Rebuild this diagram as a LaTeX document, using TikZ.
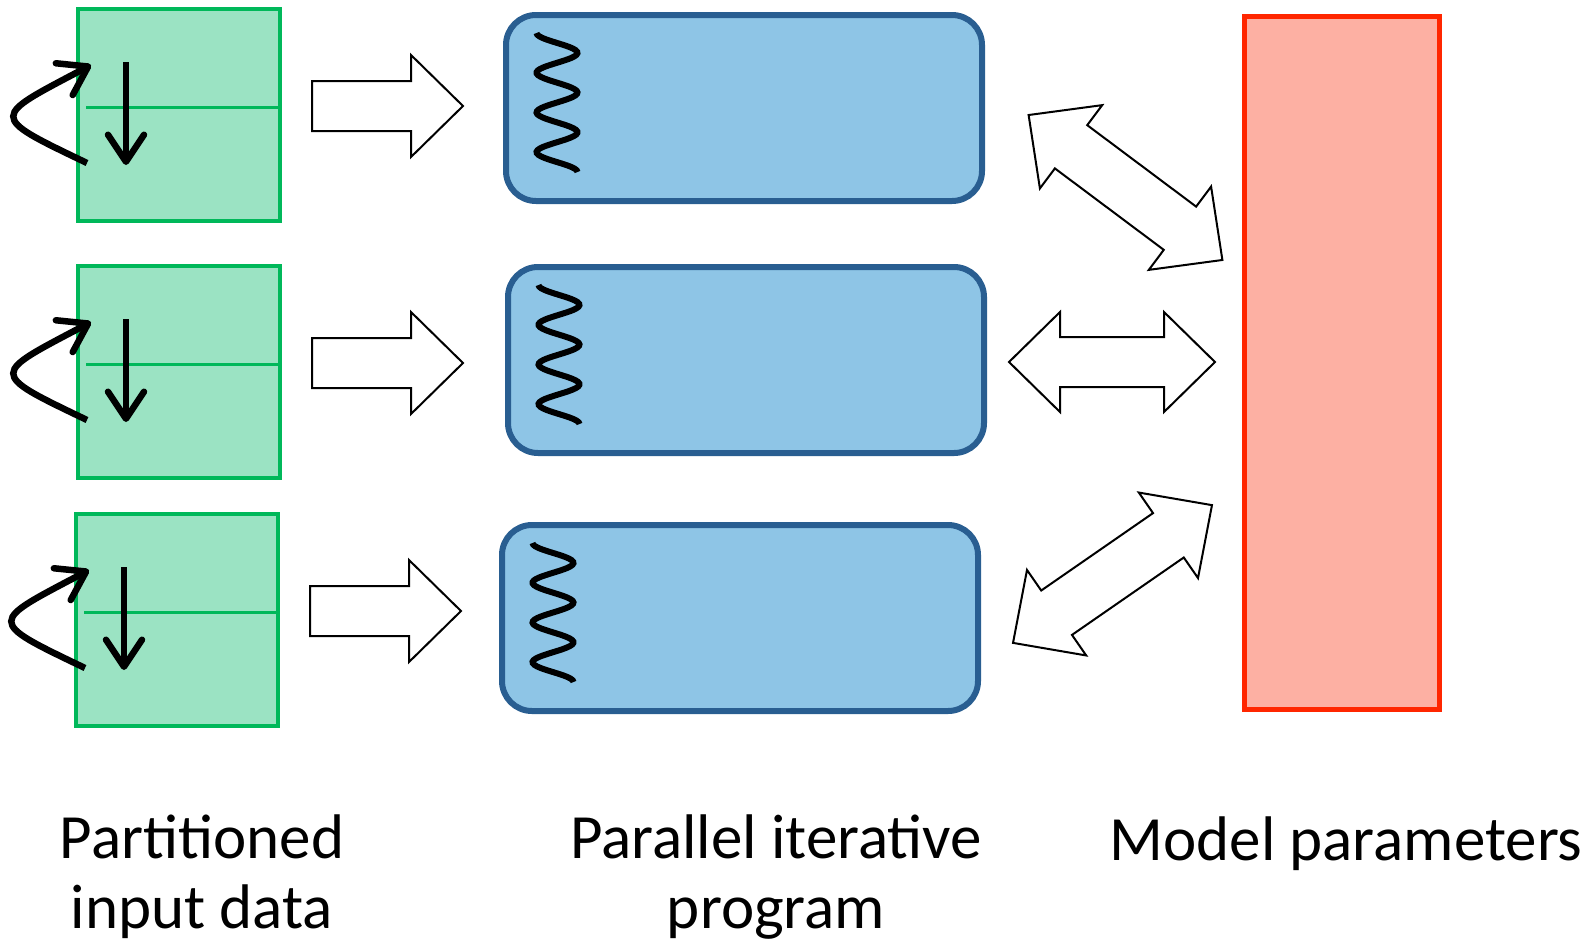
\documentclass[tikz,border=0pt]{standalone}
\usepackage{fontspec}
\setmainfont{Carlito}
\usetikzlibrary{arrows.meta}

\definecolor{gfill}{HTML}{9BE3C3}
\definecolor{gline}{HTML}{00B85A}
\definecolor{bfill}{HTML}{8EC5E6}
\definecolor{bline}{HTML}{295E91}
\definecolor{rfill}{HTML}{FDB0A3}
\definecolor{rline}{HTML}{FF2600}

\tikzset{
  part/.style={draw=gline, fill=gfill, line width=4pt, inner sep=0pt, outer sep=0pt,
    minimum width=202pt, minimum height=212pt, anchor=north west},
  proc/.style={draw=bline, fill=bfill, line width=6pt, rounded corners=30pt,
    inner sep=0pt, outer sep=0pt, minimum width=476pt, minimum height=186pt, anchor=north west},
  params/.style={draw=rline, fill=rfill, line width=5pt, inner sep=0pt, outer sep=0pt,
    minimum width=195pt, minimum height=693pt, anchor=north west},
  hollow/.style={draw=black, fill=white, line width=2pt, line join=miter},
  looparrow/.style={line width=6.5pt, -{Straight Barb[length=27pt,width=36pt,round]}},
  wave/.style={line width=6pt, line cap=butt},
  lbl/.style={font=\fontsize{63}{70}\selectfont, inner sep=0pt, anchor=base},
}

% double-headed block arrow: centre, angle, length, head length, head half-width, body half-width
\newcommand\dblArrow[6]{%
  \draw[hollow, shift={#1}, rotate=#2]
    ({-#3/2},0) -- ({-#3/2+#4},#5) -- ({-#3/2+#4},#6) -- ({#3/2-#4},#6)
    -- ({#3/2-#4},#5) -- ({#3/2},0) -- ({#3/2-#4},-#5) -- ({#3/2-#4},-#6)
    -- ({-#3/2+#4},-#6) -- ({-#3/2+#4},-#5) -- cycle;}

\begin{document}
\begin{tikzpicture}[x=1pt, y=-1pt]
\useasboundingbox (0,0) rectangle (1593,943);

% partitioned input data
\foreach \i/\dx/\dy in {1/0/0, 2/0/257, 3/-2/505}{
  \begin{scope}[shift={(\dx,\dy)}]
    \node[part] (g\i) at (78,9) {};
    \draw[gline, line width=3pt] (86,107) -- (g\i.east |- 0,107);
    \draw[looparrow] (87,163) .. controls (-13,115) and (-9,118) .. (91,65);
    \draw[looparrow] (126,62) -- (126,165);
    % block arrow towards the program
    \coordinate (a\i) at (312,106);
    \draw[hollow, shift={(a\i)}] (0,-25) -- (99,-25) -- (99,-51) -- (151,0)
      -- (99,51) -- (99,25) -- (0,25) -- cycle;
  \end{scope}
}

% parallel iterative program
\foreach \i/\dx/\dy in {1/0/0, 2/2/252, 3/-4/510}{
  \node[proc] (p\i) at (506+\dx,15+\dy) {};
  \draw[wave] plot[smooth, samples=90, domain=0:139]
    ({557+\dx-20.5*cos(\x/19.857*180)}, {33+\dy+\x});
}

% model parameters
\node[params] (m) at (1244.5,16.5) {};

% exchanges between program and parameters
\dblArrow{(1125.5,187.5)}{-36.8}{242}{53}{52}{27}
\dblArrow{(1112,362)}{0}{206}{51}{50}{25}
\dblArrow{(1112.5,574)}{34.7}{242}{53}{52}{27}

% labels
\node[lbl] (t1a) at (202,858) {Partitioned};
\node[lbl] (t1b) at (202,928) {input data};
\node[lbl] (t2a) at (776,858) {Parallel iterative};
\node[lbl] (t2b) at (776,928) {program};
\node[lbl] (t3) at (1346,860) {Model parameters};
\end{tikzpicture}
\end{document}
